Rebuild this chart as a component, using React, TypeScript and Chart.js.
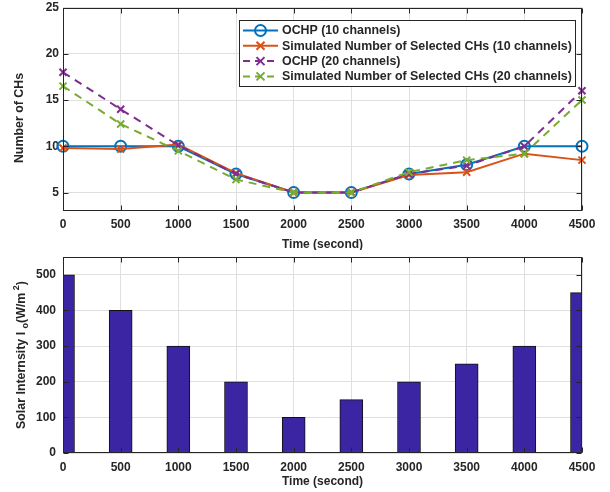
import React, { useEffect, useRef } from 'react';
import { Chart, registerables } from 'chart.js';
Chart.register(...registerables);

const times = [0, 500, 1000, 1500, 2000, 2500, 3000, 3500, 4000, 4500];
const ochp10 = [10, 10, 10, 7, 5, 5, 7, 8, 10, 10];
const sim10 = [9.8, 9.7, 10.2, 7.1, 5, 5, 6.9, 7.2, 9.2, 8.5];
const ochp20 = [18, 14, 10.1, 7, 5, 5, 7, 7.9, 10, 16];
const sim20 = [16.5, 12.4, 9.5, 6.4, 5, 5, 7.2, 8.5, 9.2, 15];
const solar = [500, 400, 300, 200, 100, 150, 200, 250, 300, 450];

const xTicks = [0, 500, 1000, 1500, 2000, 2500, 3000, 3500, 4000, 4500];
const topYTicks = [5, 10, 15, 20, 25];
const bottomYTicks = [0, 100, 200, 300, 400, 500];

const seriesLabels = [
  'OCHP (10 channels)',
  'Simulated Number of Selected CHs (10 channels)',
  'OCHP (20 channels)',
  'Simulated Number of Selected CHs (20 channels)',
];
const seriesColors = ['#0072BD', '#D95319', '#7E2F8E', '#77AC30'];
const seriesMarkers = ['circle', 'crossRot', 'crossRot', 'crossRot'];
const seriesDashed = [false, false, true, true];

const FONT = '"Liberation Sans", Arial, Helvetica, sans-serif';
const TEXT = '#262626';
const GRID = '#dfdfdf';
const BAR = '#3B25A2';

function drawMarker(ctx: CanvasRenderingContext2D, kind: string, x: number, y: number, r: number) {
  ctx.beginPath();
  if (kind === 'circle') {
    ctx.arc(x, y, r, 0, Math.PI * 2);
  } else {
    ctx.moveTo(x - r, y - r);
    ctx.lineTo(x + r, y + r);
    ctx.moveTo(x + r, y - r);
    ctx.lineTo(x - r, y + r);
  }
  ctx.stroke();
}

const boxPlugin = {
  id: 'boxTicks',
  afterDatasetsDraw(chart: any) {
    const { ctx, chartArea: a, scales } = chart;
    const l = Math.round(a.left) + 0.5;
    const r = Math.round(a.right) - 0.5;
    const t = Math.round(a.top) + 0.5;
    const b = Math.round(a.bottom) - 0.5;
    ctx.save();
    ctx.strokeStyle = TEXT;
    ctx.lineWidth = 1;
    ctx.setLineDash([]);
    ctx.strokeRect(l, t, r - l, b - t);
    const len = 5;
    ctx.beginPath();
    scales.x.ticks.forEach((tk: any) => {
      const px = Math.round(scales.x.getPixelForValue(tk.value)) + 0.5;
      ctx.moveTo(px, b);
      ctx.lineTo(px, b - len);
      ctx.moveTo(px, t);
      ctx.lineTo(px, t + len);
    });
    scales.y.ticks.forEach((tk: any) => {
      const py = Math.round(scales.y.getPixelForValue(tk.value)) + 0.5;
      ctx.moveTo(l, py);
      ctx.lineTo(l + len, py);
      ctx.moveTo(r, py);
      ctx.lineTo(r - len, py);
    });
    ctx.stroke();
    ctx.restore();
  },
};

function commonX(pad: number) {
  return {
    type: 'linear' as const,
    min: 0,
    max: 4500,
    offset: false,
    afterBuildTicks: (s: any) => {
      s.ticks = xTicks.map((v) => ({ value: v }));
    },
    afterFit: (s: any) => {
      s.height = 39;
      s.paddingLeft = 0;
      s.paddingRight = 0;
    },
    grid: { color: GRID, drawTicks: false, offset: false },
    border: { display: false },
    ticks: {
      color: TEXT,
      font: { family: FONT, size: 12, weight: 'bold' as const },
      padding: pad,
      maxRotation: 0,
      autoSkip: false,
      callback: (v: any) => String(v),
    },
  };
}

function yAxis(min: number, max: number, tickVals: number[], pad: number) {
  return {
    type: 'linear' as const,
    min,
    max,
    afterBuildTicks: (s: any) => {
      s.ticks = tickVals.map((v) => ({ value: v }));
    },
    afterFit: (s: any) => {
      s.width = 63;
      s.paddingTop = 0;
      s.paddingBottom = 0;
    },
    grid: { color: GRID, drawTicks: false },
    border: { display: false },
    ticks: {
      color: TEXT,
      font: { family: FONT, size: 12, weight: 'bold' as const },
      padding: pad,
      callback: (v: any) => String(v),
    },
  };
}

function TopChart() {
  const ref = useRef<HTMLCanvasElement>(null);
  useEffect(() => {
    const series = [ochp10, sim10, ochp20, sim20];
    const legendPlugin = {
      id: 'topExtras',
      afterDraw(chart: any) {
        const { ctx, chartArea: a } = chart;
        ctx.save();
        ctx.fillStyle = TEXT;
        ctx.font = `bold 12px ${FONT}`;
        ctx.textAlign = 'center';
        ctx.textBaseline = 'middle';
        ctx.fillText('Time (second)', (a.left + a.right) / 2, 245);
        ctx.save();
        ctx.translate(19.5, 118);
        ctx.rotate(-Math.PI / 2);
        ctx.font = `bold 12.4px ${FONT}`;
        ctx.fillText('Number of CHs', 0, 0);
        ctx.restore();
        const bx = 239.5, by = 20.5, bw = 336, bh = 66;
        ctx.fillStyle = '#ffffff';
        ctx.fillRect(bx, by, bw, bh);
        ctx.strokeStyle = TEXT;
        ctx.lineWidth = 1;
        ctx.strokeRect(bx, by, bw, bh);
        seriesLabels.forEach((lab, i) => {
          const y = 30.5 + i * 15.3;
          ctx.strokeStyle = seriesColors[i];
          ctx.lineWidth = 2;
          ctx.setLineDash(seriesDashed[i] ? [7, 5] : []);
          ctx.beginPath();
          ctx.moveTo(243, y);
          ctx.lineTo(278, y);
          ctx.stroke();
          ctx.setLineDash([]);
          drawMarker(ctx, seriesMarkers[i], 260.5, y, seriesMarkers[i] === 'circle' ? 5.5 : 4);
          ctx.fillStyle = TEXT;
          ctx.font = `bold 12.4px ${FONT}`;
          ctx.textAlign = 'left';
          ctx.textBaseline = 'middle';
          ctx.fillText(lab, 282, y + 0.5);
        });
        ctx.restore();
      },
    };
    const chart = new Chart(ref.current!, {
      type: 'line',
      data: {
        datasets: series.map((vals, i) => ({
          label: seriesLabels[i],
          data: times.map((t, j) => ({ x: t, y: vals[j] })),
          borderColor: seriesColors[i],
          borderWidth: 2,
          borderDash: seriesDashed[i] ? [8, 6] : [],
          pointStyle: seriesMarkers[i] as any,
          pointRadius: seriesMarkers[i] === 'circle' ? 5.5 : 5,
          pointBorderWidth: 2,
          pointBorderColor: seriesColors[i],
          pointBackgroundColor: 'rgba(0,0,0,0)',
          fill: false,
          tension: 0,
          clip: false as any,
          order: 4 - i,
        })),
      },
      options: {
        animation: false,
        responsive: false,
        maintainAspectRatio: false,
        layout: { padding: { top: 6, right: 28, left: 0, bottom: 0 } },
        plugins: { legend: { display: false }, tooltip: { enabled: false } },
        scales: {
          x: commonX(6) as any,
          y: yAxis(3, 25, topYTicks, 4) as any,
        },
      },
      plugins: [boxPlugin, legendPlugin],
    });
    return () => chart.destroy();
  }, []);
  return <canvas ref={ref} width={610} height={250} style={{ position: 'absolute', left: 0, top: 0 }} />;
}

function BottomChart() {
  const ref = useRef<HTMLCanvasElement>(null);
  useEffect(() => {
    const titlePlugin = {
      id: 'bottomExtras',
      afterDraw(chart: any) {
        const { ctx, chartArea: a } = chart;
        ctx.save();
        ctx.fillStyle = TEXT;
        ctx.font = `bold 12px ${FONT}`;
        ctx.textAlign = 'center';
        ctx.textBaseline = 'middle';
        ctx.fillText('Time (second)', (a.left + a.right) / 2, 231.5);
        const big = `bold 12.4px ${FONT}`;
        const small = `bold 9px ${FONT}`;
        const parts = [
          { t: 'Solar Internsity I ', f: big, dy: 0 },
          { t: 'o', f: small, dy: 4 },
          { t: '(W/m', f: big, dy: 0 },
          { t: ' 2', f: small, dy: -5 },
          { t: ')', f: big, dy: 0 },
        ];
        let total = 0;
        parts.forEach((p) => {
          ctx.font = p.f;
          total += ctx.measureText(p.t).width;
        });
        ctx.translate(21.5, (a.top + a.bottom) / 2);
        ctx.rotate(-Math.PI / 2);
        ctx.textAlign = 'left';
        let x = -total / 2;
        parts.forEach((p) => {
          ctx.font = p.f;
          ctx.fillText(p.t, x, p.dy);
          x += ctx.measureText(p.t).width;
        });
        ctx.restore();
      },
    };
    const chart = new Chart(ref.current!, {
      type: 'bar',
      data: {
        datasets: [
          {
            label: 'Solar Intensity',
            data: times.map((t, j) => ({ x: t, y: solar[j] })),
            backgroundColor: BAR,
            borderColor: '#111111',
            borderWidth: 1,
            borderSkipped: false,
            barThickness: 23,
          },
        ],
      },
      options: {
        animation: false,
        responsive: false,
        maintainAspectRatio: false,
        layout: { padding: { top: 7, right: 28, left: 0, bottom: 0 } },
        plugins: { legend: { display: false }, tooltip: { enabled: false } },
        scales: {
          x: commonX(7) as any,
          y: yAxis(0, 550, bottomYTicks, 7) as any,
        },
      },
      plugins: [boxPlugin, titlePlugin],
    });
    return () => chart.destroy();
  }, []);
  return <canvas ref={ref} width={610} height={242} style={{ position: 'absolute', left: 0, top: 250 }} />;
}

export default function App() {
  return (
    <div style={{ position: 'absolute', left: 0, top: 0, width: 610, height: 492, background: '#ffffff' }}>
      <TopChart />
      <BottomChart />
    </div>
  );
}
